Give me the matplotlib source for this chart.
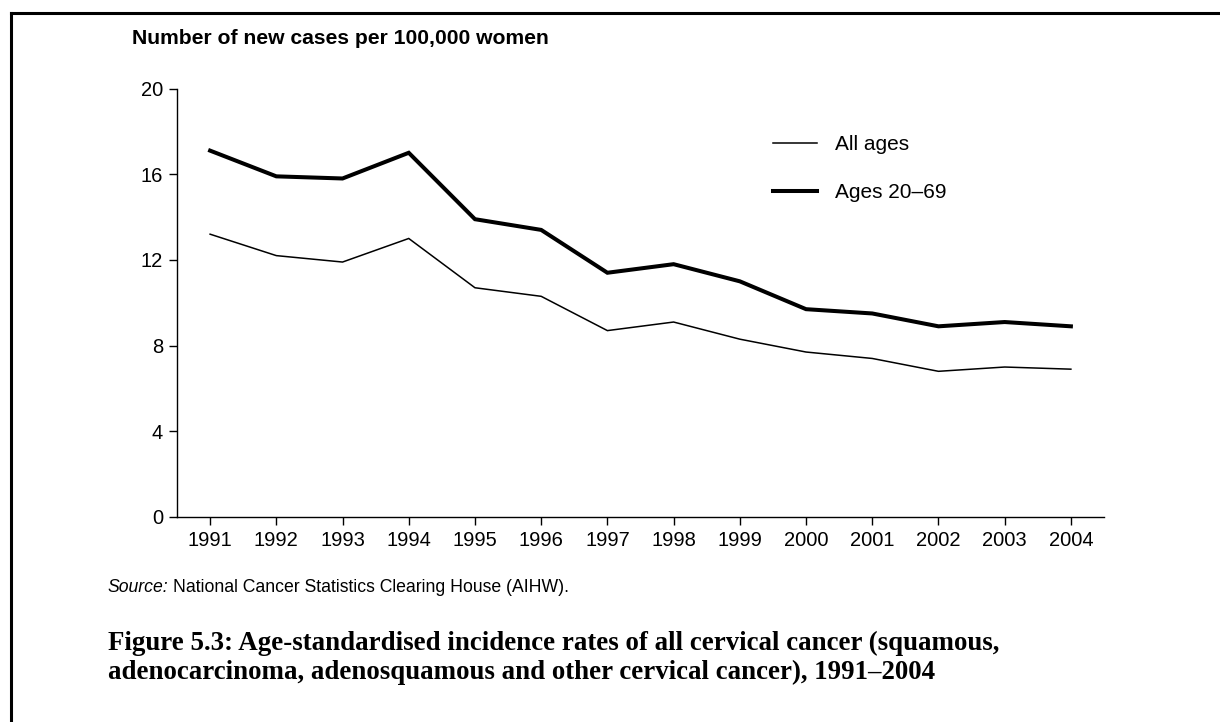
import matplotlib
matplotlib.use("Agg")
import matplotlib.pyplot as plt
from matplotlib.lines import Line2D

years = [1991, 1992, 1993, 1994, 1995, 1996, 1997, 1998, 1999, 2000, 2001, 2002, 2003, 2004]
all_ages = [13.2, 12.2, 11.9, 13.0, 10.7, 10.3, 8.7, 9.1, 8.3, 7.7, 7.4, 6.8, 7.0, 6.9]
ages_20_69 = [17.1, 15.9, 15.8, 17.0, 13.9, 13.4, 11.4, 11.8, 11.0, 9.7, 9.5, 8.9, 9.1, 8.9]
y_ticks = [0, 4, 8, 12, 16, 20]
series_labels = ["All ages", "Ages 20\u201369"]

W, H = 1220, 722
DPI = 100
SANS = "Liberation Sans"
SERIF = "Liberation Serif"
plt.rcParams['font.family'] = [SANS, 'DejaVu Sans']

fig = plt.figure(figsize=(W / DPI, H / DPI), dpi=DPI)
fig.patch.set_facecolor("white")

def fx(px):
    return px / W

def fy(py):
    return 1 - py / H

ax_left, ax_right, ax_top, ax_bottom = 177, 1104, 88.5, 517
ax = fig.add_axes([fx(ax_left), fy(ax_bottom), fx(ax_right - ax_left), (ax_bottom - ax_top) / H])

l1, = ax.plot(years, all_ages, color="black", lw=1.1, solid_joinstyle="miter")
l2, = ax.plot(years, ages_20_69, color="black", lw=2.9, solid_joinstyle="miter")

ax.set_xlim(1990.5, 2004.5)
ax.set_ylim(0, 20)
ax.set_xticks(years)
ax.set_xticklabels([str(y) for y in years])
ax.set_yticks(y_ticks)
for s in ["top", "right"]:
    ax.spines[s].set_visible(False)
for s in ["left", "bottom"]:
    ax.spines[s].set_linewidth(1.0)
ax.tick_params(axis="both", direction="out", length=6, width=1.0, labelsize=14.5, colors="black")
ax.tick_params(axis="x", pad=4)
ax.tick_params(axis="y", pad=4)

leg = ax.legend([l1, l2], series_labels, loc="upper left",
                bbox_to_anchor=(fx(773), fy(135)), bbox_transform=fig.transFigure,
                frameon=False, fontsize=15, handlelength=2.11, handletextpad=0.87,
                labelspacing=1.41, borderpad=0, borderaxespad=0)

fig.text(fx(132), fy(39), "Number of new cases per 100,000 women", fontsize=15.2,
         fontweight="bold", ha="left", va="center")

t_src = fig.text(fx(108), fy(588), "Source:", fontsize=12.7, ha="left", va="center", style="italic")
fig.canvas.draw()
bb = t_src.get_window_extent()
fig.text(bb.x1 / W + fx(4), fy(588), "National Cancer Statistics Clearing House (AIHW).",
         fontsize=12.7, ha="left", va="center")

cap_lines = ["Figure 5.3: Age-standardised incidence rates of all cervical cancer (squamous,",
             "adenocarcinoma, adenosquamous and other cervical cancer), 1991\u20132004"]
cap_kw = dict(fontsize=17, fontweight="bold", family=SERIF, ha="left", va="center")
c1 = fig.text(fx(108), fy(643), cap_lines[0], **cap_kw)
fig.canvas.draw()
w1 = c1.get_window_extent().width
fs = 17 * (1000 - 108) / w1
c1.set_fontsize(fs)
fig.text(fx(108), fy(672), cap_lines[1], **{**cap_kw, "fontsize": fs})

fig.add_artist(Line2D([fx(11), fx(11)], [fy(13), 0], color="black", lw=2.2, transform=fig.transFigure))
fig.add_artist(Line2D([fx(11), 1], [fy(13), fy(13)], color="black", lw=2.2, transform=fig.transFigure))

fig.savefig("out.png", dpi=DPI, facecolor="white")
